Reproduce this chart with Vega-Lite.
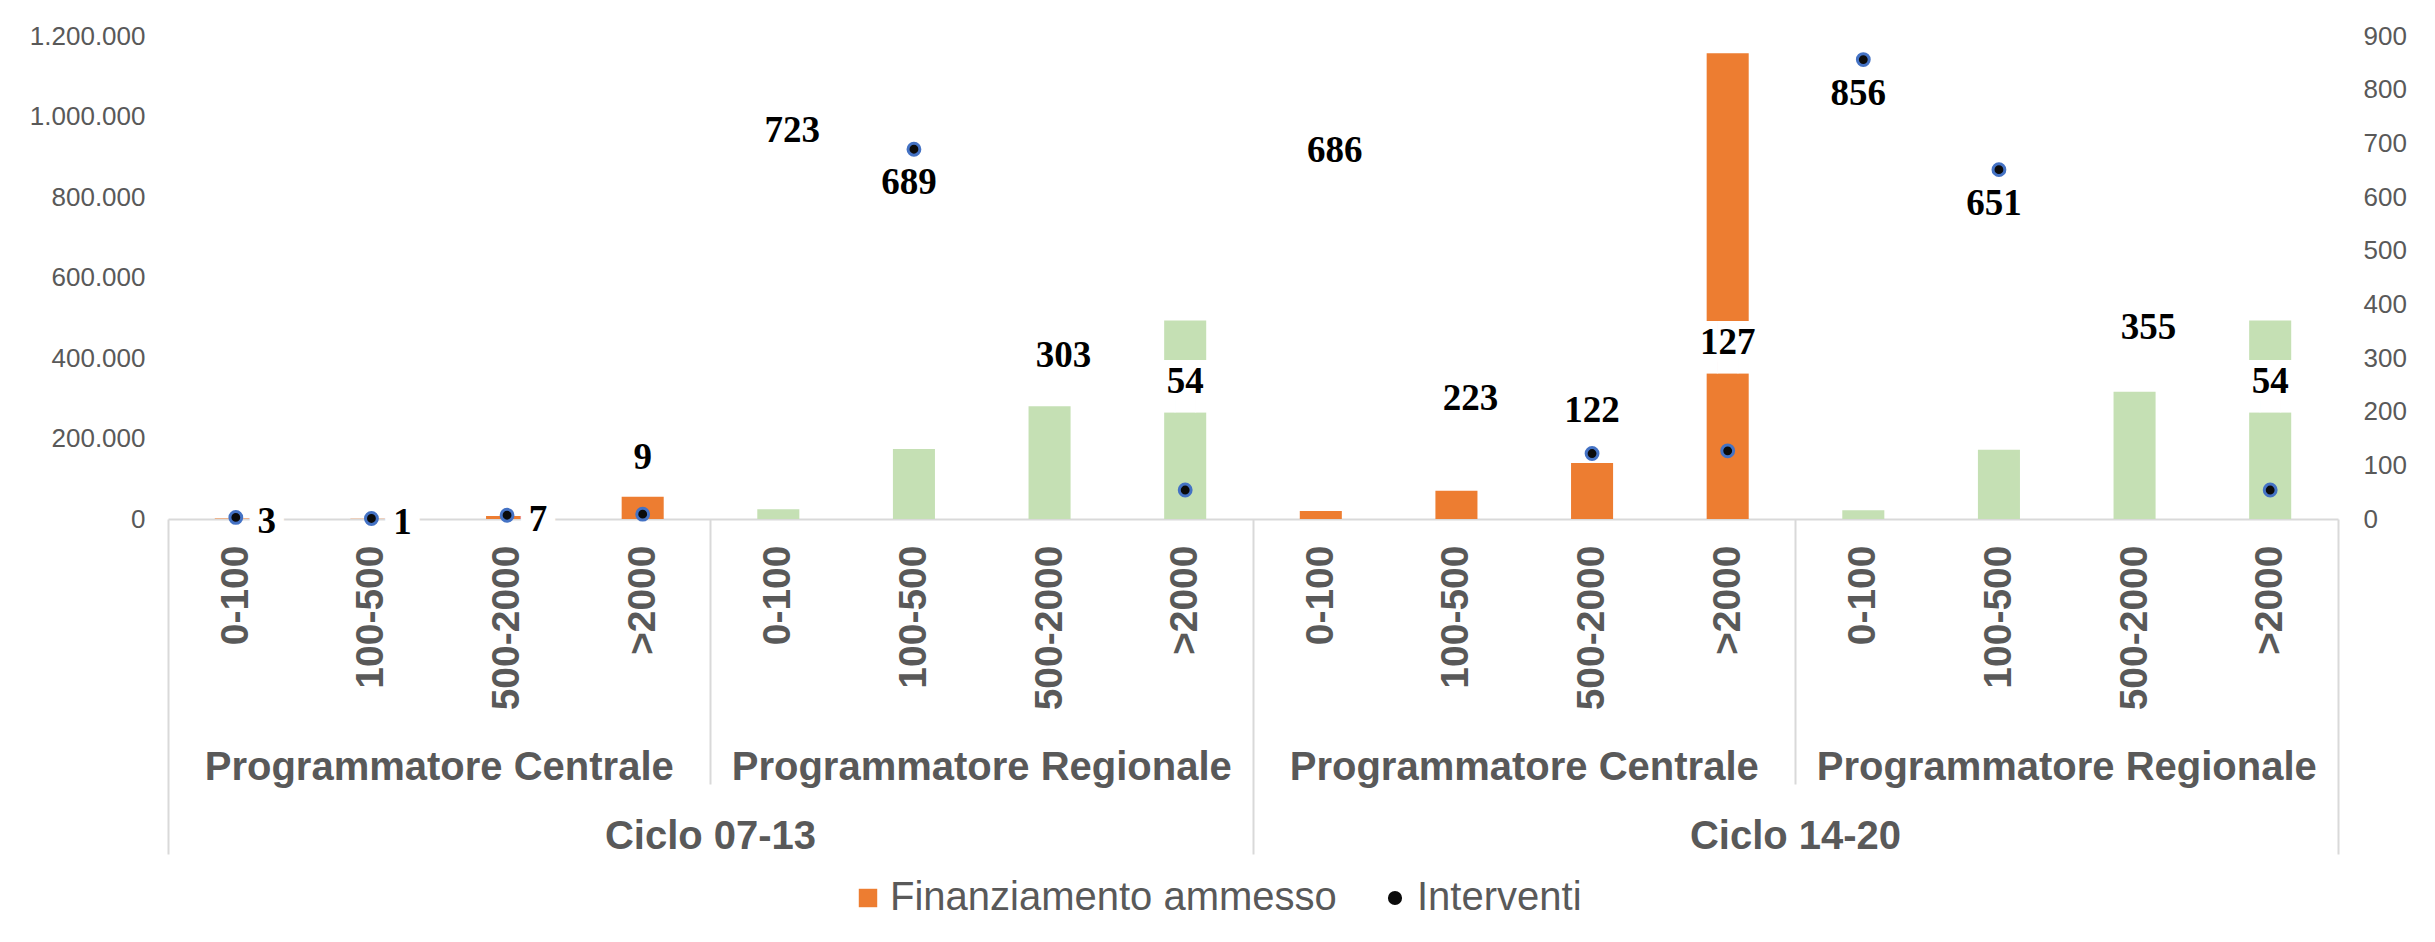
{
  "$schema": "https://vega.github.io/schema/vega-lite/v6.json",
  "width": 2170,
  "height": 483,
  "autosize": {"type": "none"},
  "padding": {"left": 168, "top": 36, "right": 97, "bottom": 423},
  "background": "white",
  "config": {"view": {"stroke": null}, "font": "Liberation Sans", "axis": {"grid": false, "title": null, "labelLimit": 2000}, "legend": {"labelLimit": 2000}},
  "data": {"values": [
    {"ciclo": "Ciclo 07-13", "prog": "Programmatore Centrale", "fascia": "0-100", "fin": 1000, "interventi": 3},
    {"ciclo": "Ciclo 07-13", "prog": "Programmatore Centrale", "fascia": "100-500", "fin": 400, "interventi": 1},
    {"ciclo": "Ciclo 07-13", "prog": "Programmatore Centrale", "fascia": "500-2000", "fin": 7500, "interventi": 7},
    {"ciclo": "Ciclo 07-13", "prog": "Programmatore Centrale", "fascia": ">2000", "fin": 55000, "interventi": 9},
    {"ciclo": "Ciclo 07-13", "prog": "Programmatore Regionale", "fascia": "0-100", "fin": 24000, "interventi": 723},
    {"ciclo": "Ciclo 07-13", "prog": "Programmatore Regionale", "fascia": "100-500", "fin": 174000, "interventi": 689},
    {"ciclo": "Ciclo 07-13", "prog": "Programmatore Regionale", "fascia": "500-2000", "fin": 280000, "interventi": 303},
    {"ciclo": "Ciclo 07-13", "prog": "Programmatore Regionale", "fascia": ">2000", "fin": 493000, "interventi": 54},
    {"ciclo": "Ciclo 14-20", "prog": "Programmatore Centrale", "fascia": "0-100", "fin": 20000, "interventi": 686},
    {"ciclo": "Ciclo 14-20", "prog": "Programmatore Centrale", "fascia": "100-500", "fin": 70000, "interventi": 223},
    {"ciclo": "Ciclo 14-20", "prog": "Programmatore Centrale", "fascia": "500-2000", "fin": 139000, "interventi": 122},
    {"ciclo": "Ciclo 14-20", "prog": "Programmatore Centrale", "fascia": ">2000", "fin": 1157000, "interventi": 127},
    {"ciclo": "Ciclo 14-20", "prog": "Programmatore Regionale", "fascia": "0-100", "fin": 22000, "interventi": 856},
    {"ciclo": "Ciclo 14-20", "prog": "Programmatore Regionale", "fascia": "100-500", "fin": 172000, "interventi": 651},
    {"ciclo": "Ciclo 14-20", "prog": "Programmatore Regionale", "fascia": "500-2000", "fin": 316000, "interventi": 355},
    {"ciclo": "Ciclo 14-20", "prog": "Programmatore Regionale", "fascia": ">2000", "fin": 493000, "interventi": 54}
  ]},
  "transform": [{"calculate": "datum.ciclo + '|' + datum.prog + '|' + datum.fascia", "as": "k"}],
  "layer": [
    {
      "mark": {"type": "bar", "width": {"band": 0.31}},
      "encoding": {
        "x": {"field": "k", "type": "nominal", "sort": null,
          "scale": {"paddingInner": 0, "paddingOuter": 0, "domain": [
            "Ciclo 07-13|Programmatore Centrale|0-100", "Ciclo 07-13|Programmatore Centrale|100-500", "Ciclo 07-13|Programmatore Centrale|500-2000", "Ciclo 07-13|Programmatore Centrale|>2000",
            "Ciclo 07-13|Programmatore Regionale|0-100", "Ciclo 07-13|Programmatore Regionale|100-500", "Ciclo 07-13|Programmatore Regionale|500-2000", "Ciclo 07-13|Programmatore Regionale|>2000",
            "Ciclo 14-20|Programmatore Centrale|0-100", "Ciclo 14-20|Programmatore Centrale|100-500", "Ciclo 14-20|Programmatore Centrale|500-2000", "Ciclo 14-20|Programmatore Centrale|>2000",
            "Ciclo 14-20|Programmatore Regionale|0-100", "Ciclo 14-20|Programmatore Regionale|100-500", "Ciclo 14-20|Programmatore Regionale|500-2000", "Ciclo 14-20|Programmatore Regionale|>2000"]},
          "axis": {"orient": "bottom", "labelExpr": "split(datum.value, '|')[2]", "labelAngle": -90, "labelFontSize": 39, "labelFontWeight": "bold", "labelColor": "#595959", "labelPadding": 26, "labelLimit": 2000, "ticks": false, "tickSize": 0, "domain": true, "domainColor": "#d9d9d9", "domainWidth": 2}},
        "y": {"field": "fin", "type": "quantitative", "scale": {"domain": [0, 1200000], "nice": false},
          "axis": {"orient": "left", "values": [0, 200000, 400000, 600000, 800000, 1000000, 1200000], "labelExpr": "replace(replace(format(datum.value, ','), ',', '.'), ',', '.')", "labelFontSize": 26, "labelColor": "#595959", "labelPadding": 23, "ticks": false, "domain": false}},
        "color": {"field": "prog", "type": "nominal",
          "scale": {"domain": ["Programmatore Centrale", "Programmatore Regionale"], "range": ["#ED7D31", "#C5E0B4"]},
          "legend": {"values": ["Programmatore Centrale"], "labelExpr": "'Finanziamento ammesso'", "title": null, "orient": "none", "legendX": 680, "legendY": 842, "padding": 0, "symbolType": "square", "symbolSize": 340, "labelFontSize": 40, "labelColor": "#595959", "labelOffset": 2, "labelLimit": 2000}}
      }
    },
    {
      "mark": {"type": "point", "filled": true, "fill": "#0b0b0b", "stroke": "#4472C4", "strokeWidth": 3, "size": 140, "opacity": 1},
      "encoding": {
        "x": {"field": "k", "type": "nominal", "sort": null,
          "axis": {"orient": "bottom", "values": ["Ciclo 07-13|Programmatore Centrale|500-2000", "Ciclo 07-13|Programmatore Regionale|500-2000", "Ciclo 14-20|Programmatore Centrale|500-2000", "Ciclo 14-20|Programmatore Regionale|500-2000"],
            "bandPosition": 0, "labelOffset": -67.8, "labelExpr": "split(datum.value, '|')[1]", "labelAngle": 0, "labelFontSize": 40, "labelFontWeight": "bold", "labelColor": "#595959", "labelPadding": 228, "labelLimit": 2000, "ticks": false, "tickSize": 0, "domain": false}},
        "y": {"field": "interventi", "type": "quantitative", "scale": {"domain": [0, 900], "nice": false},
          "axis": {"orient": "right", "values": [0, 100, 200, 300, 400, 500, 600, 700, 800, 900], "labelFontSize": 26, "labelColor": "#595959", "labelPadding": 25, "ticks": false, "domain": false}},
        "shape": {"datum": "Interventi", "type": "nominal", "scale": {"domain": ["Interventi"], "range": ["circle"]},
          "legend": {"title": null, "orient": "none", "legendX": 1207, "legendY": 842, "padding": 0, "symbolSize": 200, "symbolFillColor": "#0b0b0b", "symbolStrokeColor": "#4472C4", "symbolStrokeWidth": 3, "labelFontSize": 40, "labelColor": "#595959", "labelOffset": 2, "labelLimit": 2000}}
      }
    },
    {
      "transform": [{"filter": {"field": "interventi", "oneOf": [3, 1, 7]}}],
      "mark": {"type": "text", "font": "DejaVu Sans Mono", "fontSize": 28, "color": "white", "dx": 31, "dy": 5, "text": "██"},
      "encoding": {
        "x": {"field": "k", "type": "nominal", "sort": null,
          "axis": {"orient": "bottom", "values": ["Ciclo 07-13|Programmatore Regionale|0-100", "Ciclo 14-20|Programmatore Regionale|0-100"], "bandPosition": 0, "labelOffset": -67.8, "labelExpr": "split(datum.value, '|')[0]", "labelAngle": 0, "labelFontSize": 40, "labelFontWeight": "bold", "labelColor": "#595959", "labelLimit": 2000, "ticks": true, "tickSize": 265, "tickColor": "#d9d9d9", "tickWidth": 2, "labelPadding": 32, "domain": false}},
        "y": {"field": "interventi", "type": "quantitative", "scale": {"domain": [0, 900], "nice": false}, "axis": null}
      }
    },
    {
      "transform": [{"filter": {"field": "interventi", "oneOf": [54, 127]}}],
      "mark": {"type": "text", "font": "DejaVu Sans Mono", "fontSize": 34, "lineHeight": 12, "color": "white", "dy": -108, "text": ["███", "███"]},
      "encoding": {
        "x": {"field": "k", "type": "nominal", "sort": null,
          "axis": {"orient": "bottom", "values": ["Ciclo 07-13|Programmatore Centrale|0-100", "Ciclo 14-20|Programmatore Centrale|0-100"], "bandPosition": 0, "labels": false, "ticks": true, "tickSize": 335, "tickColor": "#d9d9d9", "tickWidth": 2, "domain": false}},
        "y": {"field": "interventi", "type": "quantitative", "scale": {"domain": [0, 900], "nice": false}, "axis": null}
      }
    },
    {
      "transform": [{"filter": {"field": "interventi", "oneOf": [723, 686, 303, 223, 355]}}],
      "mark": {"type": "text", "font": "DejaVu Sans Mono", "fontSize": 34, "lineHeight": 12, "color": "white", "dx": 14, "text": ["███", "███"]},
      "encoding": {
        "x": {"field": "k", "type": "nominal", "sort": null,
          "axis": {"orient": "bottom", "values": ["Ciclo 14-20|Programmatore Regionale|>2000"], "bandPosition": 1, "labels": false, "ticks": true, "tickSize": 335, "tickColor": "#d9d9d9", "tickWidth": 2, "domain": false}},
        "y": {"field": "interventi", "type": "quantitative", "scale": {"domain": [0, 900], "nice": false}, "axis": null}
      }
    },
    {
      "transform": [{"filter": {"field": "interventi", "oneOf": [3, 1, 7]}}],
      "mark": {"type": "text", "font": "Liberation Serif", "fontWeight": "bold", "fontSize": 37, "color": "#000000", "dx": 31, "dy": 5},
      "encoding": {
        "x": {"field": "k", "type": "nominal", "sort": null, "axis": null},
        "y": {"field": "interventi", "type": "quantitative", "scale": {"domain": [0, 900], "nice": false}, "axis": null},
        "text": {"field": "interventi", "type": "quantitative"}
      }
    },
    {
      "transform": [{"filter": {"field": "interventi", "oneOf": [9]}}],
      "mark": {"type": "text", "font": "Liberation Serif", "fontWeight": "bold", "fontSize": 37, "color": "#000000", "dy": -56},
      "encoding": {
        "x": {"field": "k", "type": "nominal", "sort": null, "axis": null},
        "y": {"field": "interventi", "type": "quantitative", "scale": {"domain": [0, 900], "nice": false}, "axis": null},
        "text": {"field": "interventi", "type": "quantitative"}
      }
    },
    {
      "transform": [{"filter": {"field": "interventi", "oneOf": [122]}}],
      "mark": {"type": "text", "font": "Liberation Serif", "fontWeight": "bold", "fontSize": 37, "color": "#000000", "dy": -43},
      "encoding": {
        "x": {"field": "k", "type": "nominal", "sort": null, "axis": null},
        "y": {"field": "interventi", "type": "quantitative", "scale": {"domain": [0, 900], "nice": false}, "axis": null},
        "text": {"field": "interventi", "type": "quantitative"}
      }
    },
    {
      "transform": [{"filter": {"field": "interventi", "oneOf": [54, 127]}}],
      "mark": {"type": "text", "font": "Liberation Serif", "fontWeight": "bold", "fontSize": 37, "color": "#000000", "dy": -108},
      "encoding": {
        "x": {"field": "k", "type": "nominal", "sort": null, "axis": null},
        "y": {"field": "interventi", "type": "quantitative", "scale": {"domain": [0, 900], "nice": false}, "axis": null},
        "text": {"field": "interventi", "type": "quantitative"}
      }
    },
    {
      "transform": [{"filter": {"field": "interventi", "oneOf": [689, 856, 651]}}],
      "mark": {"type": "text", "font": "Liberation Serif", "fontWeight": "bold", "fontSize": 37, "color": "#000000", "dx": -5, "dy": 34},
      "encoding": {
        "x": {"field": "k", "type": "nominal", "sort": null, "axis": null},
        "y": {"field": "interventi", "type": "quantitative", "scale": {"domain": [0, 900], "nice": false}, "axis": null},
        "text": {"field": "interventi", "type": "quantitative"}
      }
    },
    {
      "transform": [{"filter": {"field": "interventi", "oneOf": [723, 686, 303, 223, 355]}}],
      "mark": {"type": "text", "font": "Liberation Serif", "fontWeight": "bold", "fontSize": 37, "color": "#000000", "dx": 14},
      "encoding": {
        "x": {"field": "k", "type": "nominal", "sort": null, "axis": null},
        "y": {"field": "interventi", "type": "quantitative", "scale": {"domain": [0, 900], "nice": false}, "axis": null},
        "text": {"field": "interventi", "type": "quantitative"}
      }
    }
  ],
  "resolve": {"scale": {"y": "independent"}, "axis": {"x": "independent", "y": "independent"}}
}
